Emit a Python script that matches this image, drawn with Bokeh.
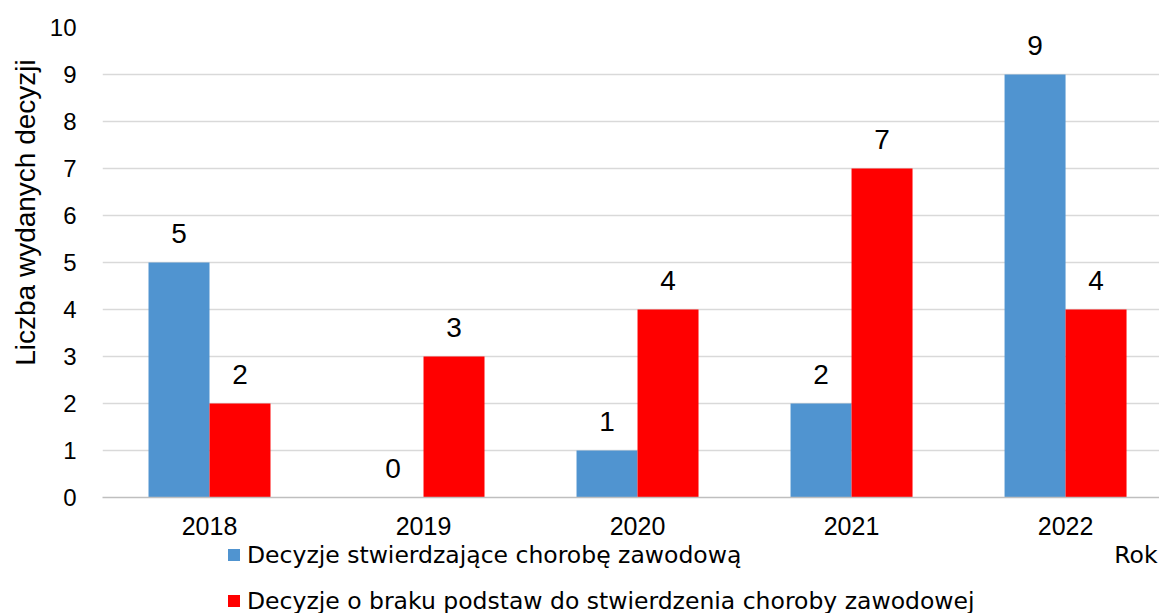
from bokeh.plotting import figure
from bokeh.models import (ColumnDataSource, Range1d, LabelSet, Label, Legend,
                          LegendItem, FixedTicker)
from bokeh.core.properties import value
from bokeh.transform import dodge
from bokeh.layouts import row, column
from bokeh.embed import file_html
from bokeh.resources import INLINE
import math

# ---- data ----
years = ["2018", "2019", "2020", "2021", "2022"]
confirmed = [5, 0, 1, 2, 9]          # Decyzje stwierdzające chorobę zawodową
no_basis = [2, 3, 4, 7, 4]           # Decyzje o braku podstaw ...
y_ticks = [0, 1, 2, 3, 4, 5, 6, 7, 8, 9, 10]

label_blue = "Decyzje stwierdzające chorobę zawodową"
label_red = "Decyzje o braku podstaw do stwierdzenia choroby zawodowej"
y_title = "Liczba wydanych decyzji"
x_title = "Rok"

BLUE = "#5094D0"
RED = "#FF0000"
GRID = "#D9D9D9"
LEG_FONT = "DejaVu Sans"
LEG_SIZE = "23.5px"

idx = list(range(len(years)))
src = ColumnDataSource(dict(
    x=idx, year=years,
    confirmed=confirmed, no_basis=no_basis,
    confirmed_lbl=[str(v) for v in confirmed],
    no_basis_lbl=[str(v) for v in no_basis],
))

TOTAL_W, TOTAL_H = 1159, 613
YT_W = 45            # strip holding the y-axis title
MAIN_H = 540         # main chart height
MAIN_W = TOTAL_W - YT_W
LEG_H = TOTAL_H - MAIN_H

# ---------------- main chart ----------------
p = figure(width=MAIN_W, height=MAIN_H, output_backend="svg", toolbar_location=None,
           x_range=Range1d(-0.5, 4.439), y_range=Range1d(0, 10),
           min_border_left=57, min_border_right=0, min_border_top=27,
           min_border_bottom=MAIN_H - 27 - 470)
p.outline_line_color = None
p.background_fill_color = "white"
p.border_fill_color = "white"

bw = 0.285
r1 = p.vbar(x=dodge("x", -bw / 2, range=p.x_range), top="confirmed", width=bw,
            source=src, fill_color=BLUE, line_color=None)
r2 = p.vbar(x=dodge("x", bw / 2, range=p.x_range), top="no_basis", width=bw,
            source=src, fill_color=RED, line_color=None)

for col, lbl, off in (("confirmed", "confirmed_lbl", -bw / 2), ("no_basis", "no_basis_lbl", bw / 2)):
    ls = LabelSet(x=dodge("x", off, range=p.x_range), y=col, text=lbl, source=src,
                  y_offset=20, text_align="center", text_baseline="alphabetic",
                  text_font=value("Liberation Sans"), text_font_size=value("28px"),
                  text_color="#000000")
    p.add_layout(ls)

p.xaxis.ticker = FixedTicker(ticks=idx)
p.xaxis.major_label_overrides = {i: y for i, y in zip(idx, years)}
p.xaxis.major_tick_line_color = None
p.xaxis.minor_tick_line_color = None
p.xaxis.axis_line_color = "#BFBFBF"
p.xaxis.axis_line_width = 1.5
p.xaxis.major_label_standoff = 13
p.xaxis.major_label_text_font = "Liberation Sans"
p.xaxis.major_label_text_font_size = "25px"
p.xaxis.major_label_text_color = "#000000"

p.yaxis.ticker = FixedTicker(ticks=y_ticks)
p.yaxis.major_tick_line_color = None
p.yaxis.minor_tick_line_color = None
p.yaxis.axis_line_color = None
p.yaxis.major_label_standoff = 20
p.yaxis.major_label_text_font = "Liberation Sans"
p.yaxis.major_label_text_font_size = "24px"
p.yaxis.major_label_text_color = "#000000"

p.xgrid.grid_line_color = None
p.ygrid.grid_line_color = GRID
p.ygrid.grid_line_width = 1.5

# ---------------- y-title strip ----------------
py = figure(width=YT_W, height=TOTAL_H, output_backend="svg", toolbar_location=None,
            x_range=Range1d(0, YT_W), y_range=Range1d(0, TOTAL_H),
            x_axis_type=None, y_axis_type=None,
            min_border_left=0, min_border_right=0, min_border_top=0, min_border_bottom=0)
py.outline_line_color = None
py.xgrid.visible = False
py.ygrid.visible = False
py.add_layout(Label(x=25, y=TOTAL_H - 212, text=y_title, angle=math.pi / 2,
                    text_align="center", text_baseline="middle",
                    text_font="Liberation Sans", text_font_size="28px",
                    text_color="#000000"))

# ---------------- legend strip ----------------
pl = figure(width=MAIN_W, height=LEG_H, output_backend="svg", toolbar_location=None,
            x_range=Range1d(0, MAIN_W), y_range=Range1d(0, LEG_H),
            x_axis_type=None, y_axis_type=None,
            min_border_left=0, min_border_right=0, min_border_top=0, min_border_bottom=0)
pl.outline_line_color = None
pl.xgrid.visible = False
pl.ygrid.visible = False
# zero-height proxies that only supply the legend swatches
g1 = pl.vbar(x=[0], top=[0], bottom=[0], width=0, fill_color=BLUE, line_color=None)
g2 = pl.vbar(x=[0], top=[0], bottom=[0], width=0, fill_color=RED, line_color=None)
legend = Legend(items=[LegendItem(label=label_blue, renderers=[g1]),
                       LegendItem(label=label_red, renderers=[g2])],
                location=(124, -2.5), orientation="vertical",
                glyph_width=15, glyph_height=15, label_standoff=6,
                label_height=30, spacing=16, padding=0, margin=0,
                border_line_color=None, background_fill_alpha=0,
                label_text_font=LEG_FONT,
                label_text_font_size=LEG_SIZE, label_text_color="#000000")
pl.add_layout(legend)
pl.add_layout(Label(x=1157 - YT_W, y=LEG_H - 14.5, text=x_title,
                    text_align="right", text_baseline="middle",
                    text_font=LEG_FONT, text_font_size=LEG_SIZE,
                    text_color="#000000"))

layout = row(py, column(p, pl))
open("out.html", "w").write(file_html(layout, INLINE))
